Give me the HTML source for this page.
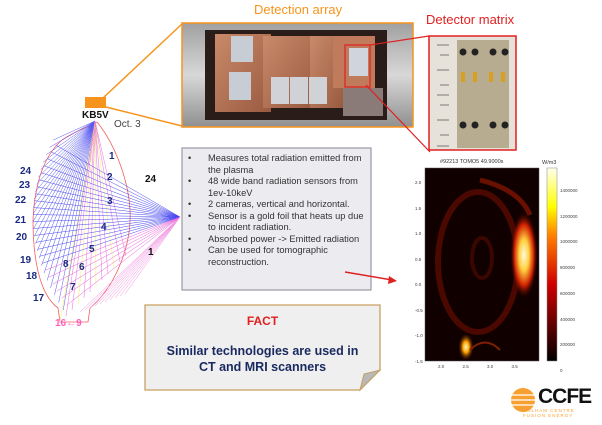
<!DOCTYPE html>
<html><head><meta charset="utf-8"><style>
body{margin:0;width:602px;height:425px;background:#fff;position:relative;overflow:hidden;font-family:"Liberation Sans",sans-serif}
.abs{position:absolute}
</style></head><body>
<svg class="abs" style="left:0;top:0" width="602" height="425" viewBox="0 0 602 425">
<defs>
<radialGradient id="cres" cx="0.5" cy="0.5" r="0.5">
<stop offset="0" stop-color="#fffbe0"/><stop offset="0.35" stop-color="#ffd040"/><stop offset="0.7" stop-color="#d02000"/><stop offset="1" stop-color="#200000" stop-opacity="0"/></radialGradient>
<radialGradient id="spot" cx="0.5" cy="0.5" r="0.5">
<stop offset="0" stop-color="#fff8c0"/><stop offset="0.4" stop-color="#ffa000"/><stop offset="1" stop-color="#300000" stop-opacity="0"/></radialGradient>
<linearGradient id="cbar" x1="0" y1="1" x2="0" y2="0">
<stop offset="0" stop-color="#000"/><stop offset="0.4" stop-color="#d00000"/><stop offset="0.65" stop-color="#ff8000"/><stop offset="0.8" stop-color="#ffff00"/><stop offset="1" stop-color="#fffff0"/></linearGradient>
<linearGradient id="cop" x1="0" y1="0" x2="1" y2="1"><stop offset="0" stop-color="#c98a6a"/><stop offset="1" stop-color="#9a5a40"/></linearGradient>
<linearGradient id="frame" x1="0" y1="0" x2="0" y2="1"><stop offset="0" stop-color="#a0a0a0"/><stop offset="0.5" stop-color="#d8d8d8"/><stop offset="1" stop-color="#909090"/></linearGradient>
</defs>
<line x1="103" y1="98" x2="182" y2="24" stroke="#f7941d" stroke-width="1.5"/>
<line x1="106" y1="107" x2="182" y2="126" stroke="#f7941d" stroke-width="1.5"/>
<rect x="85" y="97" width="21" height="11" fill="#f7941d"/>
<rect x="182" y="23" width="231" height="104" fill="url(#frame)"/>
<rect x="205" y="30" width="182" height="90" fill="#2a1c18"/>
<rect x="215" y="34" width="56" height="78" fill="url(#cop)"/>
<rect x="263" y="36" width="50" height="72" fill="url(#cop)"/>
<rect x="310" y="36" width="33" height="72" fill="url(#cop)"/>
<rect x="333" y="36" width="42" height="52" fill="#c07a5c"/>
<rect x="343" y="88" width="40" height="28" fill="#8a7a78"/>
<rect x="231" y="36" width="22" height="26" fill="#c8ccd4"/>
<rect x="229" y="72" width="22" height="28" fill="#c8ccd4"/>
<rect x="271" y="77" width="18" height="27" fill="#d0d2d8"/>
<rect x="290" y="77" width="18" height="27" fill="#d0d2d8"/>
<rect x="309" y="77" width="18" height="27" fill="#d0d2d8"/>
<rect x="349" y="48" width="19" height="28" fill="#d0d4dc"/>
<rect x="182" y="23" width="231" height="104" fill="none" stroke="#f7941d" stroke-width="1.5"/>
<rect x="345" y="45" width="25" height="42" fill="none" stroke="#e02020" stroke-width="1.2"/>
<rect x="429" y="36" width="87" height="114" fill="#e6e2da"/>
<rect x="457" y="40" width="52" height="108" fill="#b8ac90"/>
<g fill="#222"><circle cx="463" cy="52" r="3.5"/><circle cx="475" cy="52" r="3.5"/><circle cx="493" cy="52" r="3.5"/><circle cx="505" cy="52" r="3.5"/><circle cx="463" cy="125" r="3.5"/><circle cx="475" cy="125" r="3.5"/><circle cx="493" cy="125" r="3.5"/><circle cx="505" cy="125" r="3.5"/></g>
<g fill="#d8a020"><rect x="461" y="72" width="4" height="10"/><rect x="473" y="72" width="4" height="10"/><rect x="489" y="72" width="4" height="10"/><rect x="501" y="72" width="4" height="10"/></g>
<g stroke="#333" stroke-width="0.6"><line x1="437" y1="45" x2="449" y2="45"/><line x1="440" y1="55" x2="449" y2="55"/><line x1="437" y1="70" x2="449" y2="70"/><line x1="440" y1="85" x2="449" y2="85"/><line x1="437" y1="95" x2="449" y2="95"/><line x1="440" y1="105" x2="449" y2="105"/><line x1="437" y1="120" x2="449" y2="120"/><line x1="440" y1="135" x2="449" y2="135"/><line x1="437" y1="146" x2="449" y2="146"/></g>
<rect x="429" y="36" width="87" height="114" fill="none" stroke="#e02020" stroke-width="1.5"/>
<line x1="370" y1="45" x2="429" y2="36" stroke="#e02020" stroke-width="1.2"/>
<line x1="366" y1="85" x2="430" y2="152" stroke="#e02020" stroke-width="1.2"/>
<path d="M62,140 C80,128 92,126 97,122 C112,140 128,175 130,210 C132,250 112,290 90,308 L88,322 L60,322 L58,308 C40,295 33,260 33,220 C35,180 45,155 62,140 Z" fill="none" stroke="#f06060" stroke-width="0.8"/>
<g id="fan"></g>
<rect x="182" y="148" width="189" height="142" fill="#ececf0" stroke="#9a9aa8" stroke-width="1.2"/>
<line x1="345" y1="272" x2="392" y2="280" stroke="#e02020" stroke-width="1.5"/>
<path d="M397,281 L389,276 L388,284 Z" fill="#e02020"/>
<path d="M145,305 L380,305 L380,370 L360,390 L145,390 Z" fill="#efefef" stroke="#c9a060" stroke-width="1.3"/>
<path d="M360,390 L364,374 L380,370 Z" fill="#b8b8b8" stroke="#c9a060" stroke-width="1"/>
<rect x="425" y="168" width="114" height="193" fill="#100000" stroke="#555" stroke-width="0.5"/>
<ellipse cx="478" cy="262" rx="40" ry="70" fill="none" stroke="#4a0800" stroke-width="6"/>
<ellipse cx="482" cy="258" rx="10" ry="20" fill="none" stroke="#3a0600" stroke-width="4"/>
<ellipse cx="524" cy="255" rx="14" ry="44" fill="url(#cres)"/>
<ellipse cx="466" cy="347" rx="8" ry="14" fill="url(#spot)"/>
<path d="M470,350 Q485,335 500,350" stroke="#802000" stroke-width="2" fill="none"/>
<path d="M480,180 Q520,190 530,215" stroke="#6a1000" stroke-width="5" fill="none"/>
<rect x="547" y="168" width="10" height="193" fill="url(#cbar)" stroke="#888" stroke-width="0.5"/>
<circle cx="523" cy="400" r="12" fill="#f7a030"/>
<g stroke="#fff" stroke-width="1.2"><line x1="511" y1="395" x2="535" y2="395"/><line x1="511" y1="400" x2="535" y2="400"/><line x1="511" y1="405" x2="535" y2="405"/></g>
</svg>
<script>
var g=document.getElementById('fan'),s='';
function L(x1,y1,x2,y2,c){s+='<line x1="'+x1+'" y1="'+y1+'" x2="'+x2+'" y2="'+y2+'" stroke="'+c+'" stroke-width="0.5"/>';}
for(var i=0;i<24;i++){var t=i/23;var y=140+t*170;var x=33+Math.pow(Math.abs(t-0.45)*2,2)*25;L(95,121,x,y,'#5858f0');}
for(var i=0;i<12;i++){var x=60+i*6;L(95,121,x,322-i*6,i%3?'#e870e0':'#f0f060');}
for(var i=0;i<24;i++){var t=i/23;var y=145+t*160;var x=33+Math.pow(Math.abs(t-0.45)*2,2)*28;L(180,217,x,y,i<18?'#4848f0':'#e860d8');}
for(var i=0;i<10;i++){L(180,217,80+i*5,312-i*2,'#f090e0');}
g.innerHTML=s;
</script>
<div class="abs" style="left:254px;top:2px;font-size:13px;color:#f7941d">Detection array</div>
<div class="abs" style="left:426px;top:12px;font-size:13px;color:#e02020">Detector matrix</div>
<div class="abs" style="left:82px;top:110px;font-size:10px;font-weight:bold;color:#111">KB5V</div>
<div class="abs" style="left:114px;top:119px;font-size:10px;color:#444">Oct. 3</div>
<div class="abs" style="font-size:10px;font-weight:bold;color:#1a2a80;line-height:1">
<span class="abs" style="left:20px;top:167px">24</span><span class="abs" style="left:19px;top:181px">23</span><span class="abs" style="left:15px;top:196px">22</span><span class="abs" style="left:15px;top:216px">21</span><span class="abs" style="left:16px;top:233px">20</span><span class="abs" style="left:20px;top:256px">19</span><span class="abs" style="left:26px;top:272px">18</span><span class="abs" style="left:33px;top:294px">17</span>
<span class="abs" style="left:109px;top:152px">1</span><span class="abs" style="left:107px;top:173px">2</span><span class="abs" style="left:107px;top:197px">3</span><span class="abs" style="left:101px;top:223px">4</span><span class="abs" style="left:89px;top:245px">5</span><span class="abs" style="left:79px;top:263px">6</span><span class="abs" style="left:70px;top:283px">7</span><span class="abs" style="left:63px;top:260px">8</span></div>
<div class="abs" style="left:145px;top:174px;font-size:10px;font-weight:bold;color:#111">24</div>
<div class="abs" style="left:148px;top:247px;font-size:10px;font-weight:bold;color:#111">1</div>
<div class="abs" style="left:55px;top:318px;font-size:10px;font-weight:bold;color:#ff60c0">16←9</div>
<div class="abs" style="left:188px;top:153px;width:180px;font-size:9.3px;color:#333;line-height:11.5px">
<div style="display:flex"><span style="width:20px;flex:none">•</span><span>Measures total radiation emitted from the plasma</span></div>
<div style="display:flex"><span style="width:20px;flex:none">•</span><span>48 wide band radiation sensors from 1ev-10keV</span></div>
<div style="display:flex"><span style="width:20px;flex:none">•</span><span>2 cameras, vertical and horizontal.</span></div>
<div style="display:flex"><span style="width:20px;flex:none">•</span><span>Sensor is a gold foil that heats up due to incident radiation.</span></div>
<div style="display:flex"><span style="width:20px;flex:none">•</span><span>Absorbed power -&gt; Emitted radiation</span></div>
<div style="display:flex"><span style="width:20px;flex:none">•</span><span>Can be used for tomographic reconstruction.</span></div>
</div>
<div class="abs" style="left:145px;top:314px;width:235px;text-align:center;font-size:12px;font-weight:bold;color:#e02020">FACT</div>
<div class="abs" style="left:145px;top:343px;width:235px;text-align:center;font-size:12.5px;font-weight:bold;color:#1a2a60;line-height:16px">Similar technologies are used in<br>CT and MRI scanners</div>
<div class="abs" style="left:440px;top:159px;font-size:5.5px;color:#333">#92213 TOMO5 49.9000s</div>
<div class="abs" style="left:542px;top:160px;font-size:5.5px;color:#333">W/m3</div>
<div class="abs" style="left:415px;top:170px;font-size:4.5px;color:#444;line-height:25.5px">2.0<br>1.5<br>1.0<br>0.5<br>0.0<br>-0.5<br>-1.0<br>-1.5</div>
<div class="abs" style="left:438px;top:364px;font-size:4.5px;color:#444;word-spacing:17px">2.0 2.5 3.0 3.5</div>
<div class="abs" style="left:560px;top:178px;font-size:4.5px;color:#444;line-height:25.7px">1400000<br>1200000<br>1000000<br>800000<br>600000<br>400000<br>200000<br>0</div>
<div class="abs" style="left:538px;top:385px;font-size:21px;font-weight:bold;color:#111;letter-spacing:-1px">CCFE</div>
<div class="abs" style="left:523px;top:408px;font-size:4.5px;color:#f7a030;letter-spacing:1px">CULHAM CENTRE<br>FUSION ENERGY</div>
</body></html>
